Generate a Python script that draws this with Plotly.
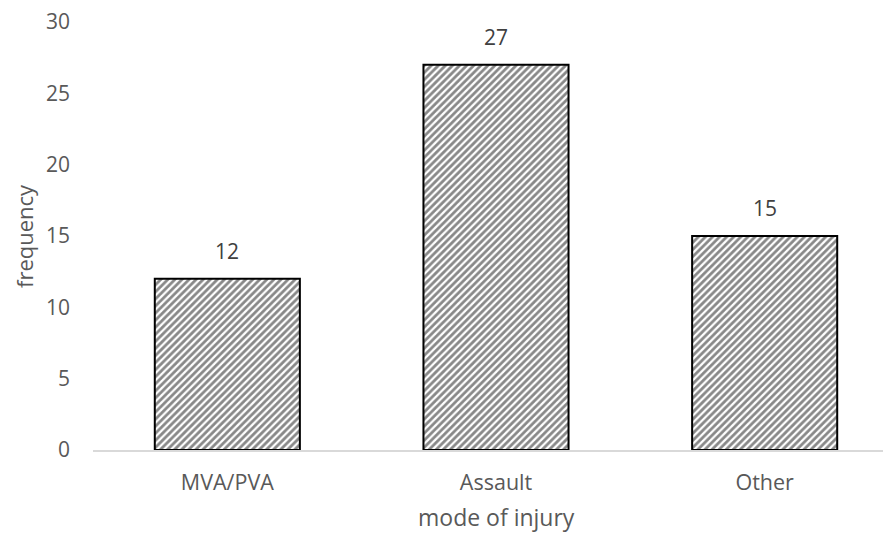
import plotly.graph_objects as go

categories = ["MVA/PVA", "Assault", "Other"]
values = [12, 27, 15]
y_ticks = [0, 5, 10, 15, 20, 25, 30]
x_title = "mode of injury"
y_title = "frequency"

font_color = "#595959"
fam = "Open Sans, Liberation Sans, sans-serif"
fig = go.Figure()
fig.add_trace(go.Bar(
    x=categories, y=values, width=0.54,
    marker=dict(color="white",
                line=dict(color="black", width=2),
                pattern=dict(shape="/", fgcolor="#111111", bgcolor="white", size=5, solidity=0.55)),
))
for c, v in zip(categories, values):
    fig.add_annotation(x=c, y=v, text=str(v), showarrow=False, yanchor="bottom",
                       yshift=12, font=dict(size=21, color="#404040", family=fam))
fig.add_annotation(text=x_title, xref="paper", yref="paper", x=0.5, y=0, yshift=-67,
                   showarrow=False, yanchor="middle", xanchor="center",
                   font=dict(size=23, color=font_color, family=fam))
fig.add_annotation(text=y_title, xref="paper", yref="paper", x=0, y=0.5, xshift=-69,
                   showarrow=False, textangle=-90, yanchor="middle", xanchor="center",
                   font=dict(size=22, color=font_color, family=fam))
fig.update_layout(
    width=891, height=533,
    margin=dict(l=85, r=0, t=14, b=91),
    paper_bgcolor="white", plot_bgcolor="white",
    font=dict(family=fam, size=21, color=font_color),
    showlegend=False,
)
fig.update_xaxes(automargin=False,
                 showline=True, linecolor="#d9d9d9", linewidth=1.5, ticks="",
                 tickfont=dict(size=21.5, color=font_color), ticklabelstandoff=12)
fig.update_yaxes(automargin=False, ticklabeloverflow="allow",
                 range=[0, 30], tickvals=y_ticks, showgrid=False, zeroline=False,
                 tickfont=dict(size=21, color=font_color), ticklabelstandoff=22)
fig.write_html("out.html")
